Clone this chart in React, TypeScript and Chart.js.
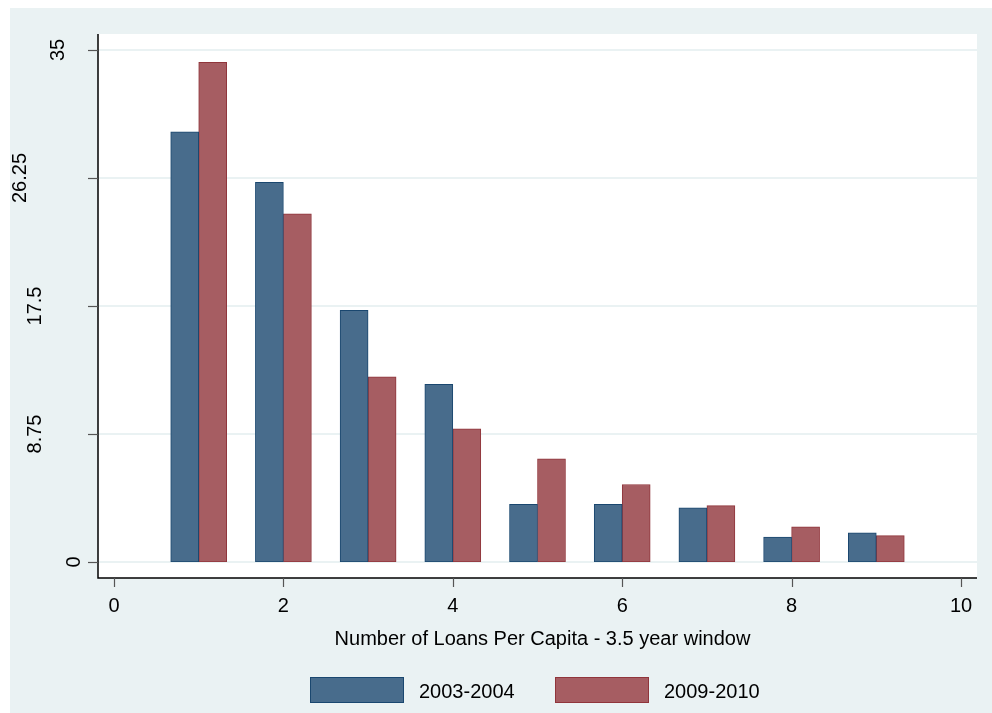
import React, { useEffect, useRef } from "react";
import { Chart, registerables } from "chart.js";

Chart.register(...registerables);

// ---- data ----
const categories = [1, 2, 3, 4, 5, 6, 7, 8, 9];
const series2003 = [29.4, 25.95, 17.2, 12.15, 3.95, 3.95, 3.7, 1.7, 2.0];
const series2009 = [34.15, 23.8, 12.65, 9.1, 7.05, 5.3, 3.85, 2.4, 1.8];
const seriesNames = ["2003-2004", "2009-2010"];
const xTicks = [0, 2, 4, 6, 8, 10];
const yTicks = [0, 8.75, 17.5, 26.25, 35];
const yTickLabels = ["0", "8.75", "17.5", "26.25", "35"];
const xTitle = "Number of Loans Per Capita - 3.5 year window";

// ---- styles ----
const FONT = '"Liberation Sans", Arial, sans-serif';
const BG = "#EAF2F3";
const FILLS = ["#486C8C", "#A65D62"];
const BORDERS = ["#1A476F", "#90353B"];
const PAD = 16;

const stataPlugin = {
  id: "stataFrame",
  beforeDraw(chart: any) {
    const { ctx, chartArea: ca, scales } = chart;
    const L = ca.left - PAD, R = ca.right + PAD, T = ca.top - PAD, B = ca.bottom + PAD;
    ctx.save();
    ctx.fillStyle = BG;
    ctx.fillRect(0, 0, chart.width, chart.height);
    ctx.fillStyle = "#ffffff";
    ctx.fillRect(L, T, R - L, B - T);
    ctx.strokeStyle = BG;
    ctx.lineWidth = 2;
    for (const v of yTicks) {
      const y = Math.round(scales.y.getPixelForValue(v));
      ctx.beginPath();
      ctx.moveTo(L, y);
      ctx.lineTo(R, y);
      ctx.stroke();
    }
    ctx.restore();
  },
  afterDraw(chart: any) {
    const { ctx, chartArea: ca, scales } = chart;
    const L = ca.left - PAD, R = ca.right + PAD, T = ca.top - PAD, B = ca.bottom + PAD;
    ctx.save();
    // axis lines
    ctx.strokeStyle = "#000";
    ctx.lineWidth = 1.5;
    ctx.beginPath();
    ctx.moveTo(L, T);
    ctx.lineTo(L, B);
    ctx.lineTo(R, B);
    ctx.stroke();
    // tick marks
    ctx.strokeStyle = "#555";
    ctx.lineWidth = 1.2;
    for (const v of yTicks) {
      const y = Math.round(scales.y.getPixelForValue(v)) + 0.5;
      ctx.beginPath();
      ctx.moveTo(L - 10, y);
      ctx.lineTo(L, y);
      ctx.stroke();
    }
    for (const v of xTicks) {
      const x = Math.round(scales.x.getPixelForValue(v)) + 0.5;
      ctx.beginPath();
      ctx.moveTo(x, B);
      ctx.lineTo(x, B + 9);
      ctx.stroke();
    }
    // labels
    ctx.fillStyle = "#000";
    ctx.font = `20px ${FONT}`;
    ctx.textBaseline = "alphabetic";
    ctx.textAlign = "center";
    xTicks.forEach((v) => {
      ctx.fillText(String(v), scales.x.getPixelForValue(v), B + 34);
    });
    yTicks.forEach((v, i) => {
      const txt = yTickLabels[i];
      const w = ctx.measureText(txt).width;
      const xr = L - 2.6 - 1.39 * w;
      const y = scales.y.getPixelForValue(v);
      ctx.save();
      ctx.translate(xr, y);
      ctx.rotate(-Math.PI / 2);
      ctx.fillText(txt, 0, 0);
      ctx.restore();
    });
    // axis title
    ctx.fillText(xTitle, (L + R) / 2 + 5, B + 67);
    // legend
    ctx.textAlign = "left";
    const boxX = [300, 545];
    const boxY = 669;
    seriesNames.forEach((name, i) => {
      ctx.fillStyle = FILLS[i];
      ctx.fillRect(boxX[i], boxY, 94, 26);
      ctx.strokeStyle = BORDERS[i];
      ctx.lineWidth = 1;
      ctx.strokeRect(boxX[i] + 0.5, boxY + 0.5, 93, 25);
      ctx.fillStyle = "#000";
      ctx.fillText(name, boxX[i] + 109, boxY + 21);
    });
    ctx.restore();
  },
};

export default function App() {
  const ref = useRef<HTMLCanvasElement | null>(null);
  useEffect(() => {
    if (!ref.current) return;
    const chart = new Chart(ref.current, {
      type: "bar",
      data: {
        datasets: [series2003, series2009].map((vals, i) => ({
          label: seriesNames[i],
          data: categories.map((c, j) => ({ x: c, y: vals[j] })),
          backgroundColor: FILLS[i],
          borderColor: BORDERS[i],
          borderWidth: 1,
          borderSkipped: false,
          barThickness: 28,
        })),
      },
      options: {
        animation: false,
        responsive: false,
        devicePixelRatio: 1,
        layout: { padding: { left: 104, right: 31, top: 42, bottom: 151 } },
        plugins: { legend: { display: false }, tooltip: { enabled: false } },
        scales: {
          x: { type: "linear", min: 0, max: 10, display: false, offset: false },
          y: { type: "linear", min: 0, max: 35, display: false },
        },
      },
      plugins: [stataPlugin],
    } as any);
    return () => chart.destroy();
  }, []);
  return (
    <div style={{ position: "fixed", left: 10, top: 8, width: 982, height: 705 }}>
      <canvas ref={ref} width={982} height={705} style={{ display: "block" }} />
    </div>
  );
}
